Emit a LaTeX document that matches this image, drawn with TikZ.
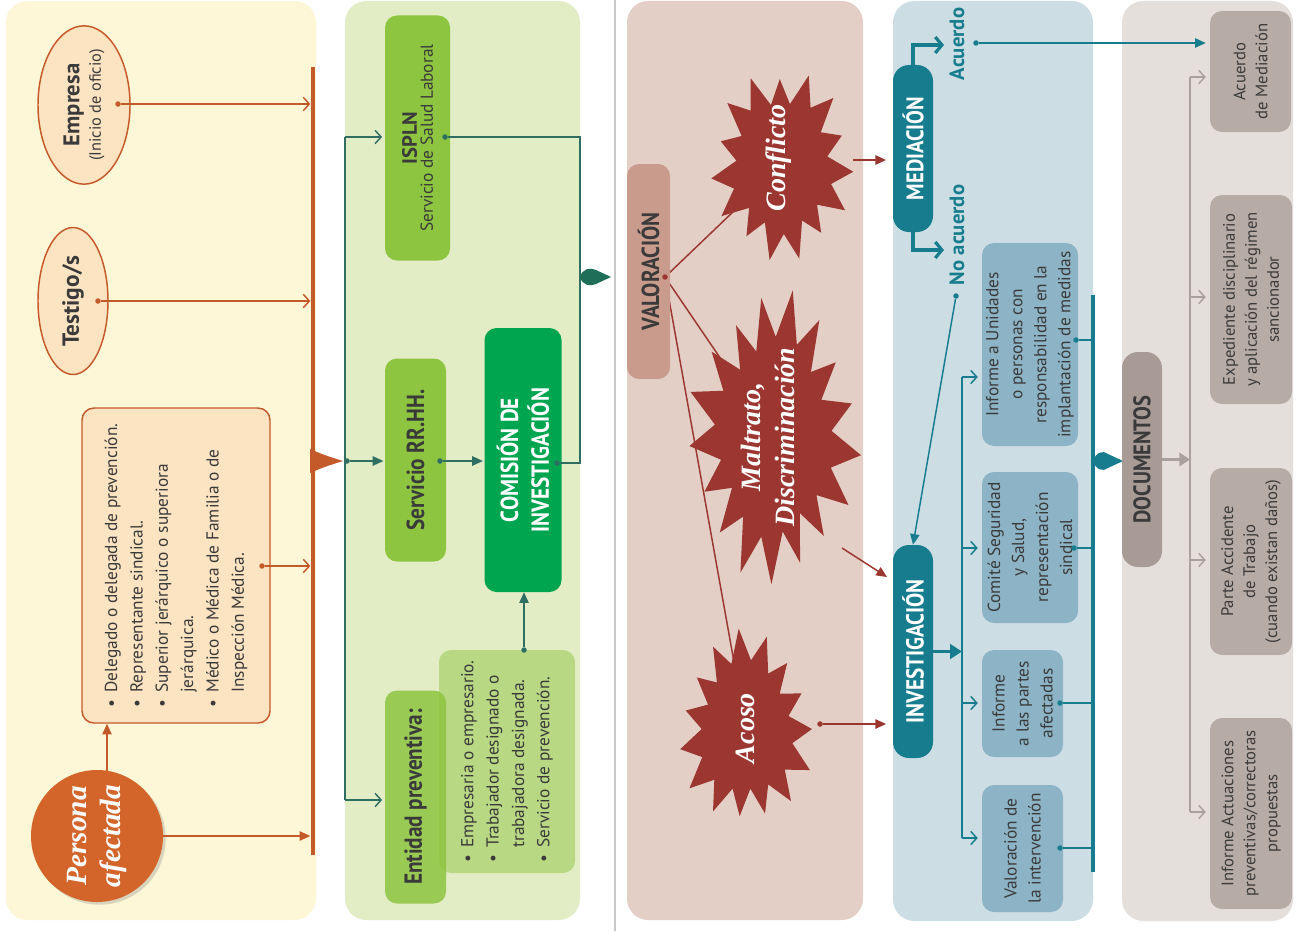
\documentclass[tikz,border=0pt]{standalone}
\usepackage{fontspec}
\setmainfont{PT Sans}
\newfontfamily\cond[FakeStretch=0.86]{PT Sans}
\newfontfamily\scr{Liberation Serif}
\usetikzlibrary{arrows.meta,shapes.geometric,shadows}
\definecolor{pY}{HTML}{FEF7D7}
\definecolor{peach}{HTML}{FCE3C2}
\definecolor{orn}{HTML}{C4592A}
\definecolor{ornC}{HTML}{D4652A}
\definecolor{pG}{HTML}{E2EDC6}
\definecolor{lime}{HTML}{8DC540}
\definecolor{limeL}{HTML}{B8D883}
\definecolor{gdark}{HTML}{00A54F}
\definecolor{gline}{HTML}{2F6E62}
\definecolor{gfeat}{HTML}{1F6E58}
\definecolor{pP}{HTML}{E3CFC5}
\definecolor{valc}{HTML}{C99B8C}
\definecolor{starc}{HTML}{9C3631}
\definecolor{pB}{HTML}{CDDDE4}
\definecolor{teal}{HTML}{177D8E}
\definecolor{bbox}{HTML}{8DB4C6}
\definecolor{pGr}{HTML}{E5DFDB}
\definecolor{docc}{HTML}{A89B95}
\definecolor{gbox}{HTML}{B6ABA5}
\definecolor{gl}{HTML}{A9A19D}
\definecolor{sepc}{HTML}{C8C8C8}
\definecolor{txt}{HTML}{3A3A3A}
\newcommand\bl{\makebox[0.85em][l]{•}}
\newcommand\bi{\hspace*{0.85em}}
\newcommand\fs[2]{\fontsize{#1}{#2}\selectfont}
\pgfdeclarelayer{bg}
\pgfdeclarelayer{mid}
\pgfsetlayers{bg,mid,main}
\begin{document}
\begin{tikzpicture}[x=0.75pt,y=-0.75pt,
  every node/.append style={text=txt},
  rb/.style 2 args={rotate=90, minimum width=#2*0.75pt, minimum height=#1*0.75pt, inner sep=1pt, align=center, rounded corners=9pt},
  dotn/.style={circle, inner sep=0pt, minimum size=5.5*0.75pt, fill=#1},
  ohead/.style={-{Straight Barb[length=4.5pt,width=10pt,line width=1.1pt]}},
  fhead/.style={-{Triangle[length=8pt,width=7pt]}},
  oline/.style={draw=orn, line width=1.1pt},
  gline/.style={draw=gline, line width=1.1pt},
  rline/.style={draw=starc, line width=1.1pt},
  tline/.style={draw=teal, line width=1.1pt},
  gyline/.style={draw=gl, line width=1.1pt},
  ell/.style={ellipse, draw=orn, line width=1.1pt, fill=peach, rotate=90, inner sep=0pt, align=center},
  sarea/.style={ellipse, inner sep=0pt},
  stxt/.style={rotate=90, text=white, align=center, font=\scr\bfseries\itshape\fs{21}{25}},
  capt/.style={font=\cond\bfseries\fs{18.5}{23}},
  btxt/.style={font=\fs{13}{18}},
  gtxt/.style={font=\fs{12.5}{16.5}},
  bul/.style={align=left, font=\fs{13}{19}}
]
\useasboundingbox (0,0) rectangle (1301,931);
\begin{pgfonlayer}{bg}
\fill[white] (0,0) rectangle (1301,931);
\fill[pY, rounded corners=16pt] (6,1) rectangle (316,920);
\fill[pG, rounded corners=16pt] (345,1) rectangle (580,920);
\fill[pP, rounded corners=16pt] (627,1) rectangle (863,920);
\fill[pB, rounded corners=16pt] (893,1) rectangle (1093,921);
\fill[pGr, rounded corners=16pt] (1122,1) rectangle (1293,921);
\draw[sepc, line width=1.5pt] (615,0) -- (615,931);
\end{pgfonlayer}

% ---------------- yellow column
\node[ell, minimum width=146*0.75pt, minimum height=92*0.75pt] (emp) at (84,105)
  {{\bfseries\fs{17}{18}Empresa}\\[3pt]{\fs{12.3}{13}(Inicio de oficio)}};
\node[ell, minimum width=147*0.75pt, minimum height=70*0.75pt] (tes) at (73,301)
  {\bfseries\fs{17.5}{18}Testigo/s};
\node[rb={188}{315}, draw=orn, fill=peach, line width=1.1pt, bul] (bulb) at (176,565.5)
  {\bl Delegado o delegada de prevención.\\ \bl Representante sindical.\\ \bl Superior jerárquico o superiora\\ \bi jerárquica.\\ \bl Médico o Médica de Familia o de\\ \bi Inspección Médica.};
\node[circle, fill=ornC, minimum size=132*0.75pt, drop shadow={opacity=0.3, shadow xshift=2pt, shadow yshift=-2pt}, rotate=90, text=white, align=center, font=\scr\bfseries\itshape\fs{22}{25}] (per) at (97,836) {Persona\\afectada};

\coordinate (bt) at (313,67);
\coordinate (bb) at (313,855);
\draw[orn, line width=3pt] (bt) -- (bb);
\node[dotn=orn] (empd) at (118,104) {};
\node[dotn=orn] (tesd) at (98,301) {};
\node[dotn=orn] (buld) at (262,566) {};
\draw[oline, ohead, shorten >=2pt] (empd) -- (empd -| bt);
\draw[oline, ohead, shorten >=2pt] (tesd) -- (tesd -| bt);
\draw[oline, ohead, shorten >=2pt] (buld) -- (buld -| bt);
\draw[oline, fhead, shorten >=2pt] (per) -- (per -| bt);
\coordinate (pu) at (107,771);
\draw[oline, fhead] (pu) -- (pu |- bulb.west);
\fill[orn] (310,449) .. controls (324,455) .. (343,461) .. controls (324,467) .. (310,473) -- cycle;

% ---------------- green column
\node[rb={65}{245}, fill=lime] (isp) at (417.5,138)
  {{\bfseries\fs{15.5}{17}ISPLN}\\{\fs{13}{16}Servicio de Salud Laboral}};
\node[rb={61}{203}, fill=lime, font=\cond\bfseries\fs{18.5}{20}] (rrhh) at (415.5,460) {Servicio RR.HH.};
\node[rb={77}{264}, fill=gdark, text=white, capt] (com) at (523,460) {COMISIÓN DE\\INVESTIGACIÓN};
\node[rb={136}{223}, fill=limeL, bul] (ensub) at (507,761.5)
  {\bl Empresaria o empresario.\\ \bl Trabajador designado o\\ \bi trabajadora designada.\\ \bl Servicio de prevención.};
\node[rb={61}{213}, fill=lime, fill opacity=0.85, text opacity=1, font=\cond\bfseries\fs{18.5}{20}] (ent) at (415.5,797) {Entidad preventiva:};

\coordinate (g1) at (345,137);
\coordinate (g2) at (345,800);
\coordinate (gr) at (580,137);
\draw[gline] (g1) -- (g2);
\draw[gline, ohead, shorten >=2pt] (g1) -- (g1 -| isp.north);
\draw[gline, ohead, shorten >=2pt] (g2) -- (g2 -| ent.north);
\node[dotn=gline] (gd1) at (347,461) {};
\node[dotn=gline] (gd2) at (440,461) {};
\node[dotn=gline] (gd3) at (445,137) {};
\node[dotn=gline] (gd4) at (557,463) {};
\node[dotn=gline] (gd5) at (524,650) {};
\draw[gline, fhead, shorten >=1pt] (gd1) -- (gd1 -| rrhh.north);
\draw[gline, fhead, shorten >=1pt] (gd2) -- (gd2 -| com.north);
\draw[gline] (gd3) -- (gr) |- (gd4);
\draw[gline, fhead] (gd5) -- (gd5 |- com.west);
\fill[gfeat] (580,277) .. controls (582,269) and (590,267) .. (596,270) -- (611,277) -- (596,284) .. controls (590,287) and (582,285) .. (580,277) -- cycle;

% ---------------- pink column
\node[rb={43}{215}, fill=valc, font=\cond\bfseries\fs{18.5}{20}] (val) at (648.5,271.5) {VALORACIÓN};
\node[dotn=starc] (vd) at (665,277) {};
\node[sarea, minimum width=144*0.75pt, minimum height=200*0.75pt] (conf) at (782,165) {};
\node[sarea, minimum width=172*0.75pt, minimum height=296*0.75pt] (malt) at (774,437) {};
\node[sarea, minimum width=138*0.75pt, minimum height=200*0.75pt] (acos) at (746,729) {};
\begin{pgfonlayer}{mid}
\draw[rline] (vd) -- (conf.center);
\draw[rline] (vd) -- (malt.center);
\draw[rline] (vd) -- (acos.center);
\end{pgfonlayer}
\fill[starc] plot[domain=0:360, samples=31, variable=\t]
  ({782+74*(1-0.31*mod(round(\t/12),2))*(0.93+0.07*sin(5*\t+30))*cos(\t+4)},
   {165+100*(1-0.31*mod(round(\t/12),2))*(0.93+0.07*sin(5*\t+30))*sin(\t+4)}) -- cycle;
\fill[starc] plot[domain=0:360, samples=35, variable=\t]
  ({774+88*(1-0.32*mod(round(\t/10.588),2))*(0.93+0.07*sin(4*\t+70))*cos(\t+7)},
   {437+150*(1-0.32*mod(round(\t/10.588),2))*(0.93+0.07*sin(4*\t+70))*sin(\t+7)}) -- cycle;
\fill[starc] plot[domain=0:360, samples=31, variable=\t]
  ({746+70*(1-0.31*mod(round(\t/12),2))*(0.93+0.07*sin(3*\t+10))*cos(\t)},
   {729+101*(1-0.31*mod(round(\t/12),2))*(0.93+0.07*sin(3*\t+10))*sin(\t)}) -- cycle;
\node[stxt] (conft) at (779,158) {Conflicto};
\node[stxt] (maltt) at (768,437) {Maltrato,\\Discriminación};
\node[stxt] (acost) at (745,728) {Acoso};

% ---------------- blue column
\node[rb={40}{167}, fill=teal, text=white, rounded corners=12pt, font=\cond\bfseries\fs{18}{20}] (med) at (913,148.5) {MEDIACIÓN};
\node[rb={40}{213}, fill=teal, text=white, rounded corners=12pt, font=\cond\bfseries\fs{18.5}{20}] (inv) at (913,651.5) {INVESTIGACIÓN};
\coordinate (ca) at (853,160);
\coordinate (ma) at (842,548);
\coordinate (mb) at (887,577);
\node[dotn=starc] (acd) at (820,724) {};
\draw[rline, fhead, shorten >=5pt] (ca) -- (ca -| med.north);
\draw[rline, fhead] (ma) -- (mb);
\draw[rline, fhead, shorten >=5pt] (acd) -- (acd -| inv.north);

\coordinate (acA) at (944,45);
\coordinate (naA) at (944,250);
\draw[teal, line width=2.6pt, -{Straight Barb[length=5pt,width=12pt,line width=2.4pt]}] (med.east) |- (acA);
\draw[teal, line width=2.6pt, -{Straight Barb[length=5pt,width=12pt,line width=2.4pt]}] (med.west) |- (naA);
\node[rotate=90, text=teal, font=\bfseries\fs{15.5}{17}] (acu) at (957,44) {Acuerdo};
\node[rotate=90, text=teal, font=\bfseries\fs{15.5}{17}] (noa) at (957,235) {No acuerdo};

\node[rb={96}{203}, fill=bbox, btxt] (iu) at (1030,344.5) {Informe a Unidades\\o personas con\\responsabilidad en la\\implantación de medidas};
\node[rb={96}{151}, fill=bbox, btxt] (cs) at (1030,547.5) {Comité Seguridad\\y Salud,\\representación\\sindical};
\node[rb={81}{107}, fill=bbox, btxt] (ip) at (1022.5,703.5) {Informe\\a las partes\\afectadas};
\node[rb={81}{127}, fill=bbox, btxt] (vi) at (1022.5,848.5) {Valoración de\\la intervención};

\node[rb={81}{121}, fill=gbox, gtxt] (acm) at (1250.5,71.5) {Acuerdo\\de Mediación};
\node[rb={82}{209}, fill=gbox, gtxt] (exp) at (1251,299.5) {Expediente disciplinario\\y aplicación del régimen\\sancionador};
\node[rb={82}{187}, fill=gbox, gtxt] (pa) at (1251,561.5) {Parte Accidente\\de Trabajo\\(cuando existan daños)};
\node[rb={82}{191}, fill=gbox, gtxt] (ia) at (1251,813.5) {Informe Actuaciones\\preventivas/correctoras\\propuestas};

\node[dotn=teal] (acud) at (976,43) {};
\node[dotn=teal] (noad) at (956,296) {};
\draw[tline, fhead, shorten >=3pt] (acud) -- (acud -| acm.north);
\draw[tline, fhead] (noad) -- (inv.east);

\coordinate (v1) at (962,377);
\coordinate (v2) at (962,548);
\coordinate (v3) at (962,703);
\coordinate (v4) at (962,838);
\draw[teal, line width=2.6pt, -{Triangle[length=9pt,width=11pt]}] (inv.south) -- (inv.south -| v1);
\draw[tline] (v1) -- (v4);
\draw[tline, ohead, shorten >=3pt] (v1) -- (v1 -| iu.north);
\draw[tline, ohead, shorten >=3pt] (v2) -- (v2 -| cs.north);
\draw[tline, ohead, shorten >=3pt] (v3) -- (v3 -| ip.north);
\draw[tline, ohead, shorten >=3pt] (v4) -- (v4 -| vi.north);

\coordinate (tb1) at (1093,295);
\coordinate (tb2) at (1093,872);
\draw[teal, line width=3pt] (tb1) -- (tb2);
\node[dotn=teal] (iud) at (1076,340) {};
\node[dotn=teal] (csd) at (1074,548) {};
\node[dotn=teal] (ipd) at (1060,703) {};
\node[dotn=teal] (vid) at (1060,848) {};
\draw[tline] (iud) -- (iud -| tb1);
\draw[tline] (csd) -- (csd -| tb1);
\draw[tline] (ipd) -- (ipd -| tb1);
\draw[tline] (vid) -- (vid -| tb1);
\fill[teal] (1093,461) .. controls (1096,452) and (1103,450) .. (1108,454) -- (1123,461) -- (1108,468) .. controls (1103,472) and (1096,470) .. (1093,461) -- cycle;

% ---------------- grey column
\node[rb={40}{215}, fill=docc, rounded corners=12pt, font=\cond\bfseries\fs{18}{20}] (doc) at (1142,459.5) {DOCUMENTOS};
\coordinate (d1) at (1190,77);
\coordinate (d2) at (1190,297);
\coordinate (d3) at (1190,560);
\coordinate (d4) at (1190,812);
\draw[gl, line width=2.2pt, -{Triangle[length=8pt,width=10pt]}] (doc.south) -- (doc.south -| d1);
\draw[gyline] (d1) -- (d4);
\draw[gyline, ohead, shorten >=3pt] (d1) -- (d1 -| acm.north);
\draw[gyline, ohead, shorten >=3pt] (d2) -- (d2 -| exp.north);
\draw[gyline, ohead, shorten >=3pt] (d3) -- (d3 -| pa.north);
\draw[gyline, ohead, shorten >=3pt] (d4) -- (d4 -| ia.north);
\end{tikzpicture}
\end{document}
